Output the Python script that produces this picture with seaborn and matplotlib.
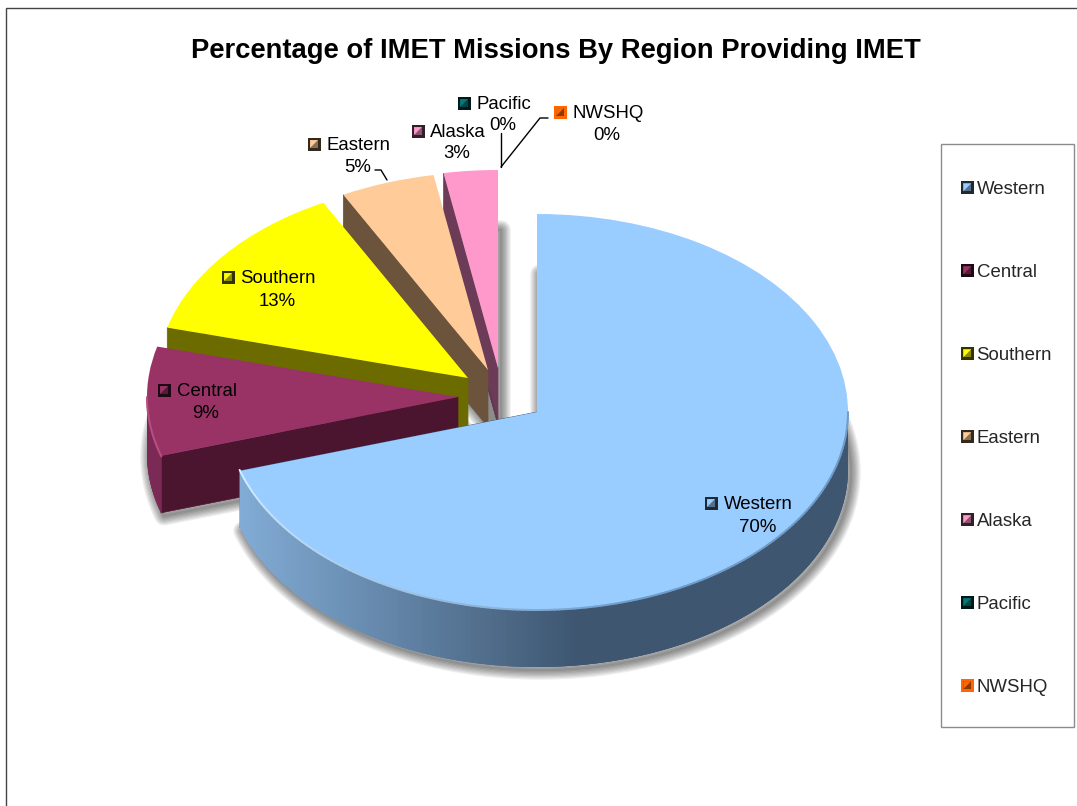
import numpy as np
import matplotlib
matplotlib.use("Agg")
import matplotlib.pyplot as plt
import seaborn as sns
from matplotlib.collections import PolyCollection, LineCollection
from matplotlib.colors import to_rgb
from matplotlib.legend_handler import HandlerBase
from matplotlib.patches import Patch, Polygon, Rectangle

# ---------- data ----------
regions = ["Western", "Central", "Southern", "Eastern", "Alaska", "Pacific", "NWSHQ"]
shares = [70.2, 8.9, 13.2, 4.9, 2.8, 0.0, 0.0]
slice_hex = ["#99CCFF", "#993366", "#FFFF00", "#FFCC99", "#FF99CC", "#007A7A", "#FF6600"]
cut_hex = ["#3E5670", "#4B152F", "#6B6B00", "#6B533C", "#6B3B58", "#003333", "#7A3300"]
title_text = "Percentage of IMET Missions By Region Providing IMET"

sns.set_theme(style="white")
plt.rcParams["font.family"] = ["Liberation Sans", "DejaVu Sans"]
palette = sns.color_palette(slice_hex)

W, H = 1077, 806
fig = plt.figure(figsize=(W / 100, H / 100), dpi=100, facecolor="white")

# pie axes: one data unit = the tilted pie's radii in pixels
RX, RY, OX, OY, DEPTH = 311.0, 198.0, 537.0, 412.0, 57.0
ax = fig.add_axes([0, 0, 1, 1])
wedges, _ = ax.pie(shares, colors=palette, startangle=90, counterclock=False,
                   normalize=True, wedgeprops={"linewidth": 0})
ax.set_aspect("auto")
ax.set_xlim(-OX / RX, (W - OX) / RX)
ax.set_ylim((OY - H) / RY, OY / RY)
ax.axis("off")


def to_xy(px, py):
    return (px - OX) / RX, (OY - py) / RY


def mix(c1, c2, t):
    c1, c2 = np.array(to_rgb(c1)), np.array(to_rgb(c2))
    return tuple(c1 + (c2 - c1) * t)


dz = DEPTH / RY
apex_px = [(537, 412), (458, 397), (468, 378), (488, 370), (498, 368), (498, 368), (498, 368)]

# back to front
for rank, i in enumerate([6, 5, 4, 3, 2, 1, 0]):
    w = wedges[i]
    if shares[i] == 0:
        w.set_visible(False)
        continue
    base = 10 + rank * 10
    cx, cy = to_xy(*apex_px[i])
    w.set_center((cx, cy))
    w.set_zorder(base + 5)
    t1, t2 = w.theta1, w.theta2  # counter-clockwise bounds in degrees

    # soft shadow cast by the underside
    th = np.radians(np.linspace(t1, t2, 200))
    under = np.column_stack([np.r_[cx, cx + np.cos(th)], np.r_[cy, cy + np.sin(th)] - dz])
    under = under + np.array([3 / RX, -3 / RY])
    for lw in [2, 4.5, 7, 9.5, 12, 14.5, 17, 19.5]:
        ax.add_patch(Polygon(under, closed=True, facecolor="none", edgecolor=(0, 0, 0, .065),
                             linewidth=lw * .72, joinstyle="round", zorder=base))

    # cut face on the left-facing side of each slice
    a_cut = t2 if i != 0 else t1
    ex, ey = cx + np.cos(np.radians(a_cut)), cy + np.sin(np.radians(a_cut))
    ax.add_patch(Polygon([(cx, cy), (ex, ey), (ex, ey - dz), (cx, cy - dz)], closed=True,
                         facecolor=cut_hex[i], edgecolor=cut_hex[i], linewidth=.5, zorder=base + 2))

    # outer rim, front part only
    if i == 0:
        angs = np.linspace(197, 360, 170)
    elif i == 1:
        angs = np.linspace(180, 197.5, 24)
    else:
        angs = np.array([])
    if len(angs):
        quads, cols, segs, seg_cols = [], [], [], []
        for k, a0 in enumerate(angs[:-1]):
            a1 = angs[k + 1]
            a_over = angs[min(k + 3, len(angs) - 1)]  # overlap the next strips so no seams show
            r0, r1, r2 = np.radians(a0), np.radians(a1), np.radians(a_over)
            p0 = (cx + np.cos(r0), cy + np.sin(r0))
            p1 = (cx + np.cos(r1), cy + np.sin(r1))
            p2 = (cx + np.cos(r2), cy + np.sin(r2))
            mid = (cx + np.cos((r0 + r2) / 2), cy + np.sin((r0 + r2) / 2))
            quads.append([p0, mid, p2, (p2[0], p2[1] - dz), (mid[0], mid[1] - dz), (p0[0], p0[1] - dz)])
            if i == 0:
                xpx = OX + RX * p0[0]
                t = np.clip((xpx - 238) / (575 - 238), 0, 1)
                c = mix("#82ACD6", "#3E5670", t)
                hl = mix("#D2EEFF", "#6F9CC8", np.clip((a0 - 197) / 90, 0, 1))
            else:
                c = "#7A2A55"
                hl = "#B84D82"
            cols.append(c)
            segs.append([p0, p1])
            seg_cols.append(hl)
        ax.add_collection(PolyCollection(quads, facecolors=cols, edgecolors="none", linewidths=0,
                                         zorder=base + 3))
        ax.add_collection(LineCollection(segs, colors=seg_cols, linewidths=1.4, zorder=base + 6,
                                         capstyle="round"))

# ---------- page overlay: text, leaders, legend ----------
page = fig.add_axes([0, 0, 1, 1], zorder=5)
page.set_xlim(0, W)
page.set_ylim(H, 0)
page.axis("off")

page.plot([6, 6, W], [H, 8, 8], color="#444444", lw=1.0, solid_joinstyle="miter")
page.text(556, 50.5, title_text, fontsize=19.74, fontweight="bold", ha="center", va="center",
          color="black")


def key_parts(color, inner_dark, frame, mapper, transform):
    """Small bevelled legend key; mapper turns unit (u, v-down) into axes coordinates."""
    f = .2
    corners = lambda pts: [mapper(u, v) for u, v in pts]
    return [
        Polygon(corners([(0, 0), (1, 0), (1, 1), (0, 1)]), closed=True, facecolor=frame,
                edgecolor="none", transform=transform),
        Polygon(corners([(f, f), (1 - f, f), (1 - f, 1 - f), (f, 1 - f)]), closed=True,
                facecolor=inner_dark, edgecolor="none", transform=transform),
        Polygon(corners([(f, f), (1 - f, f), (f, 1 - f)]), closed=True, facecolor=color,
                edgecolor="none", transform=transform),
    ]


def key_colors(i):
    frame = "#FF6600" if regions[i] == "NWSHQ" else mix(slice_hex[i], "#000000", .8)
    return slice_hex[i], mix(slice_hex[i], "#000000", .45), frame


class BevelKey(HandlerBase):
    def create_artists(self, legend, orig, xd, yd, width, height, fontsize, trans):
        i = orig.region_index
        s = 9.4
        x0, y0 = -xd, -yd + (height - s) / 2 + 0.3
        mapper = lambda u, v: (x0 + u * s, y0 + (1 - v) * s)
        return key_parts(*key_colors(i), mapper, trans)


def place_key(i, x, y, s=13):
    mapper = lambda u, v: (x + (u - .5) * s, y + (v - .5) * s)
    for p in key_parts(*key_colors(i), mapper, page.transData):
        page.add_patch(p)


label_at = {  # key centre, name start, name centre y, percent centre, percent y
    "Western": (711, 503, 724, 758, 527),
    "Central": (164, 390, 177, 206, 413),
    "Southern": (228, 277, 240, 277, 301),
    "Eastern": (314, 144, 327, 358, 167),
    "Alaska": (418, 131, 430, 457, 154),
    "Pacific": (464, 103, 477, 503, 126),
    "NWSHQ": (560, 112, 572, 607, 136),
}
for i, name in enumerate(regions):
    kx, ky, tx, px, py = label_at[name]
    place_key(i, kx, ky)
    page.text(tx, ky + 1.5, name, fontsize=13.4, ha="left", va="center", color="black")
    page.text(px, py, f"{shares[i]:.0f}%", fontsize=13.4, ha="center", va="center", color="black")

for xs, ys in [([375, 381, 387], [170, 170, 180]),
               ([500.5, 500.5], [133, 167]),
               ([548, 540, 501], [118, 118, 167])]:
    page.plot(xs, ys, color="black", lw=1.0)

page.add_patch(Rectangle((941, 144), 133, 583, facecolor="white", edgecolor="#8C8C8C", lw=1.0, zorder=1))
handles = []
for i, name in enumerate(regions):
    h = Patch(facecolor=slice_hex[i], label=name)
    h.region_index = i
    handles.append(h)
leg = page.legend(handles=handles, loc="upper left", bbox_to_anchor=(923.5, 144),
                  bbox_transform=page.transData, borderaxespad=0, fontsize=13.4,
                  frameon=False, labelspacing=3.543, borderpad=2.0, handlelength=.7,
                  handleheight=.7, handletextpad=.15,
                  handler_map={Patch: BevelKey()})

fig.savefig("out.png", dpi=100, facecolor="white")
